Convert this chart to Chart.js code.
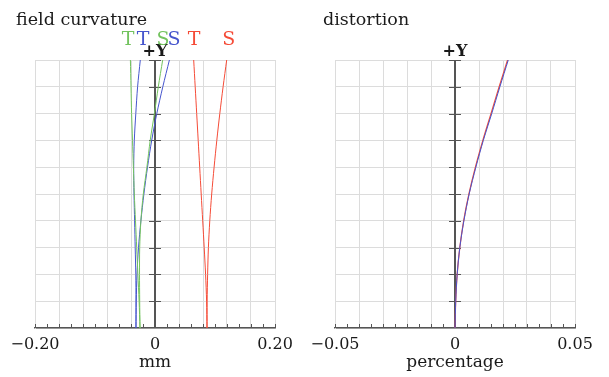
<!DOCTYPE html>
<html><head><meta charset="utf-8">
<script src="https://cdn.jsdelivr.net/npm/chart.js@4.4.0/dist/chart.umd.min.js"></script>
<style>
html,body{margin:0;padding:0;background:#fff;}
#wrap{position:relative;width:609px;height:377px;overflow:hidden;background:#fff;}
#c1{position:absolute;left:0;top:0;width:300px;height:377px;}
#c2{position:absolute;left:300px;top:0;width:309px;height:377px;}
</style></head><body>
<div id="wrap">
<canvas id="c1" width="300" height="377"></canvas>
<canvas id="c2" width="309" height="377"></canvas>
</div>
<script>
// ---- data ----
const fieldY = [0, 0.1, 0.2, 0.3, 0.4, 0.5, 0.6, 0.7, 0.8, 0.9, 1.0];
const greenT = [-0.025, -0.0265, -0.0285, -0.0305, -0.0325, -0.0345, -0.036, -0.0375, -0.039, -0.040, -0.041];
const blueT  = [-0.0317, -0.0317, -0.032, -0.033, -0.034, -0.035, -0.0355, -0.0345, -0.032, -0.029, -0.0245];
const greenS = [-0.025, -0.0255, -0.0258, -0.0255, -0.0235, -0.0195, -0.0135, -0.008, -0.001, 0.0055, 0.0128];
const blueS  = [-0.0317, -0.0312, -0.030, -0.0275, -0.0235, -0.0185, -0.0125, -0.0055, 0.003, 0.013, 0.024];
const redT   = [0.0867, 0.086, 0.0843, 0.082, 0.0795, 0.077, 0.0745, 0.072, 0.0695, 0.067, 0.0645];
const redS   = [0.0867, 0.0869, 0.0877, 0.089, 0.0913, 0.0945, 0.0985, 0.103, 0.108, 0.1135, 0.1195];

const distY    = [0, 0.1, 0.2, 0.3, 0.4, 0.5, 0.6, 0.7, 0.8, 0.9, 1.0];
const distBlue = [0, 0.0003, 0.0009, 0.0020, 0.0037, 0.0059, 0.0087, 0.0118, 0.0153, 0.0187, 0.0222];
const distRed  = [0, 0.0003, 0.0009, 0.0020, 0.0036, 0.0058, 0.0085, 0.0116, 0.0150, 0.0184, 0.0219];

const fieldTickLabels = {"-0.2": "\u22120.20", "0": "0", "0.2": "0.20"};
const distTickLabels  = {"-0.05": "\u22120.05", "0": "0", "0.05": "0.05"};
const fieldSeriesLabels = ["T", "T", "S", "S", "T", "S"];
const fieldSeriesLabelX = [-0.045, -0.020, 0.0133, 0.0317, 0.065, 0.123];

// ---- styles ----
const GREEN = 'rgb(115,195,95)';
const BLUE  = 'rgb(70,85,205)';
const RED   = 'rgb(245,75,55)';
const SERIF = '"DejaVu Serif", "Liberation Serif", serif';

function pts(xs, ys){ return xs.map((v,i)=>({x:v, y:ys[i]})); }
function ds(xs, ys, color, w){
  return {data: pts(xs, ys), borderColor: color, backgroundColor: color, borderWidth: w || 1,
          showLine: true, pointRadius: 0, tension: 0.3, fill: false};
}

const overlay = {
  id: 'overlay',
  beforeDatasetsDraw(chart, args, o){
    const ctx = chart.ctx, xs = chart.scales.x, ys = chart.scales.y, ca = chart.chartArea;
    const x0 = xs.getPixelForValue(0);
    ctx.save();
    ctx.strokeStyle = '#555';
    ctx.lineWidth = 2;
    ctx.beginPath(); ctx.moveTo(x0, ca.top); ctx.lineTo(x0, ca.bottom); ctx.stroke();
    ctx.lineWidth = 1.2;
    ctx.beginPath();
    for (let k = 1; k <= 10; k++){
      const py = Math.round(ys.getPixelForValue(k/10)) + 0.5;
      ctx.moveTo(x0 - 6, py); ctx.lineTo(x0 + 6, py);
    }
    ctx.stroke();
    ctx.lineWidth = 1;
    ctx.beginPath();
    const n = o.minorCount;
    for (let k = 0; k <= n; k++){
      const v = xs.min + (xs.max - xs.min) * k / n;
      const px = Math.round(xs.getPixelForValue(v)) + 0.5;
      ctx.moveTo(px, ca.bottom); ctx.lineTo(px, ca.bottom - 4);
    }
    ctx.stroke();
    ctx.restore();
  },
  afterDraw(chart, args, o){
    const ctx = chart.ctx, xs = chart.scales.x;
    const x0 = xs.getPixelForValue(0);
    ctx.save();
    ctx.fillStyle = '#1a1a1a';
    ctx.textBaseline = 'alphabetic';
    ctx.textAlign = 'left';
    ctx.font = '17.5px ' + SERIF;
    ctx.fillText(o.title, o.titleX, 25);
    ctx.textAlign = 'center';
    ctx.font = 'bold 16px ' + SERIF;
    ctx.fillText('+Y', x0, 56);
    if (o.labels){
      ctx.font = '19px ' + SERIF;
      o.labels.forEach((t, i) => {
        ctx.fillStyle = o.labelColors[i];
        ctx.fillText(t, xs.getPixelForValue(o.labelX[i]), 45);
      });
    }
    ctx.restore();
  }
};

function makeOpts(cfg){
  return {
    responsive: false, animation: false, devicePixelRatio: 1,
    layout: {padding: {left: 35, right: cfg.padRight, top: 60, bottom: 0}},
    plugins: {legend: {display: false}, tooltip: {enabled: false}, title: {display: false},
              overlay: cfg.overlay},
    scales: {
      x: {type: 'linear', min: cfg.min, max: cfg.max,
          afterFit: (s) => { s.height = 49; },
          ticks: {stepSize: cfg.step, autoSkip: false, maxRotation: 0, minRotation: 0, padding: 7,
                  color: '#1a1a1a', font: {family: SERIF, size: 16},
                  callback: (v) => { const key = String(Math.round(v*1000)/1000); return cfg.tickLabels[key] !== undefined ? cfg.tickLabels[key] : ''; }},
          grid: {color: '#dcdcdc', drawTicks: false, lineWidth: 1},
          border: {display: true, color: '#555', width: 1.5},
          title: {display: true, text: cfg.xTitle, color: '#1a1a1a', font: {family: SERIF, size: 17},
                  padding: {top: 0, bottom: 4}}
      },
      y: {type: 'linear', min: 0, max: 1,
          afterFit: (s) => { s.width = 0; },
          ticks: {display: false, stepSize: 0.1},
          grid: {color: '#dcdcdc', drawTicks: false, lineWidth: 1},
          border: {display: true, color: '#dcdcdc'}
      }
    }
  };
}

new Chart(document.getElementById('c1'), {
  type: 'scatter',
  data: {datasets: [
    ds(greenT, fieldY, GREEN), ds(blueT, fieldY, BLUE),
    ds(greenS, fieldY, GREEN), ds(blueS, fieldY, BLUE),
    ds(redT, fieldY, RED), ds(redS, fieldY, RED)
  ]},
  options: makeOpts({min: -0.2, max: 0.2, step: 0.04, padRight: 25, xTitle: 'mm',
    tickLabels: fieldTickLabels,
    overlay: {minorCount: 20, title: 'field curvature', titleX: 16,
      labels: fieldSeriesLabels, labelX: fieldSeriesLabelX,
      labelColors: [GREEN, BLUE, GREEN, BLUE, RED, RED]}}),
  plugins: [overlay]
});

new Chart(document.getElementById('c2'), {
  type: 'scatter',
  data: {datasets: [ds(distBlue, distY, BLUE), ds(distRed, distY, RED, 1.2)]},
  options: makeOpts({min: -0.05, max: 0.05, step: 0.01, padRight: 34, xTitle: 'percentage',
    tickLabels: distTickLabels,
    overlay: {minorCount: 20, title: 'distortion', titleX: 23}}),
  plugins: [overlay]
});
</script>
</body></html>
